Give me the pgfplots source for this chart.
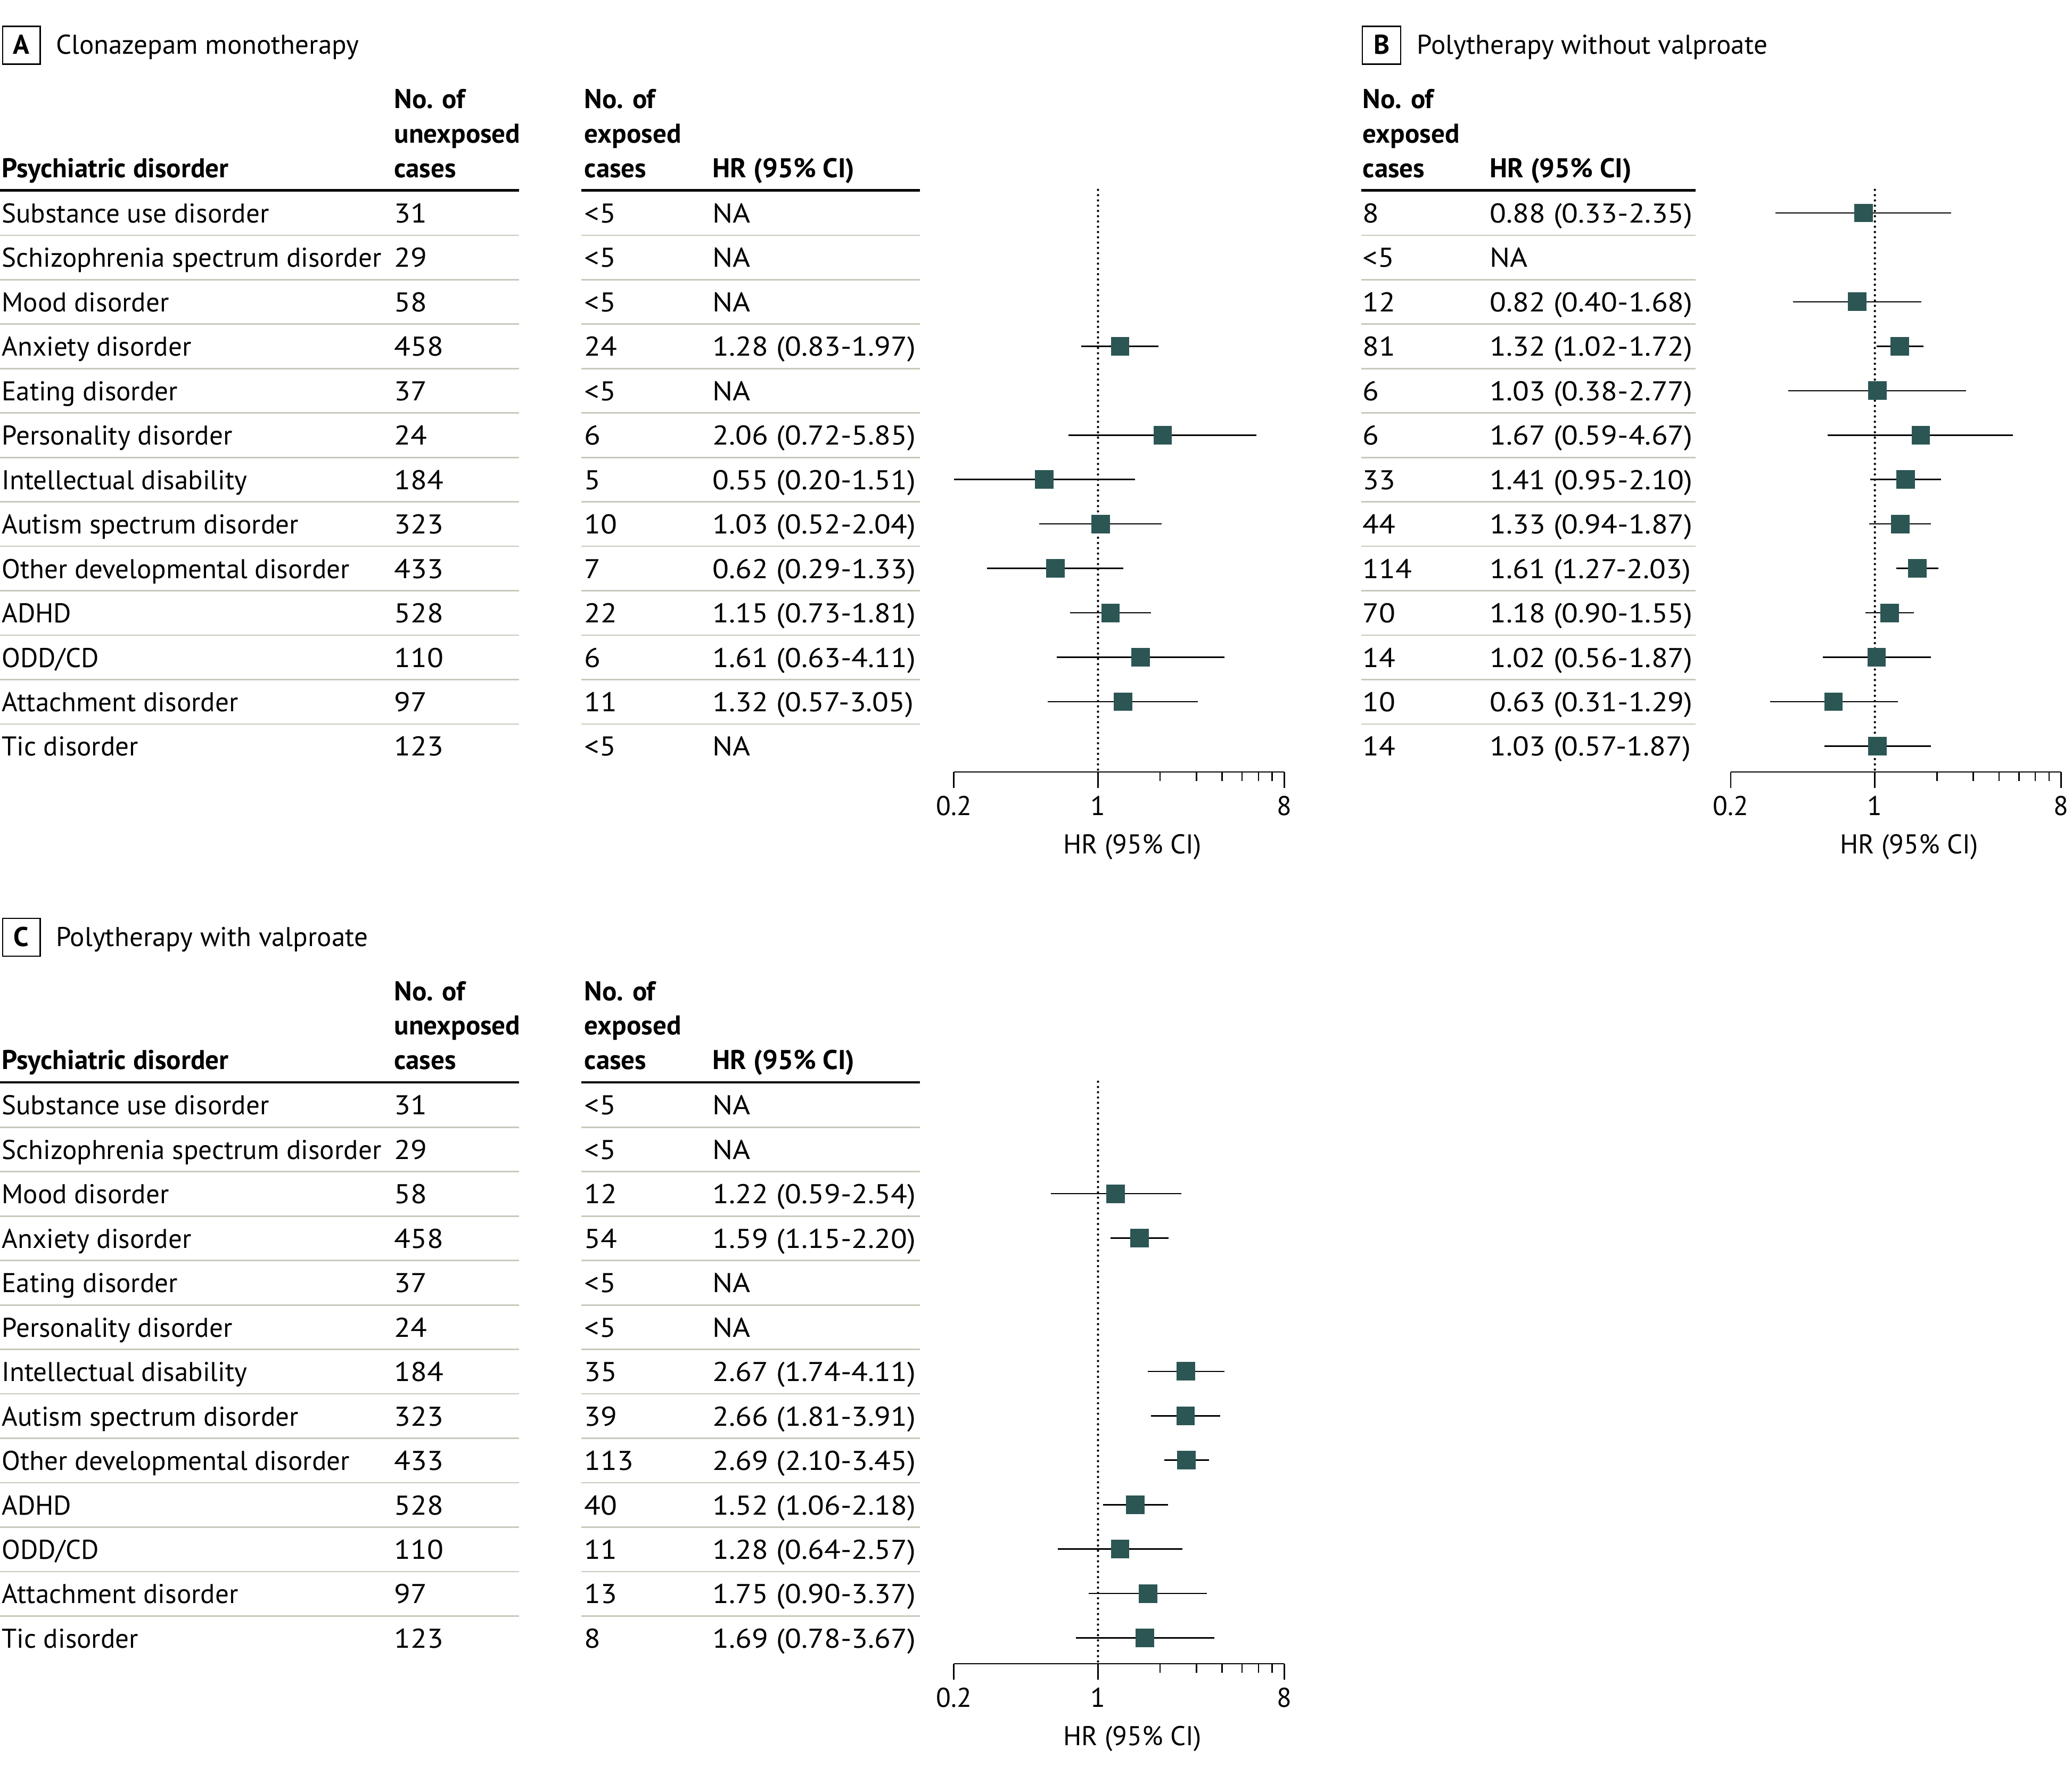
\documentclass[border=0pt]{standalone}
\usepackage{fontspec}
\setmainfont{PT Sans}
\newfontfamily\numfont{PT Sans}[FakeStretch=1.11]
\usepackage{pgfplots}
\pgfplotsset{compat=1.18}
\definecolor{markc}{RGB}{43,86,84}
\definecolor{sepc}{RGB}{200,200,188}
\newcommand\fs{\fontsize{11.7pt}{14pt}\selectfont}

\pgfplotsset{
  every axis/.append style={
    overlay,
    xmin=0.2, xmax=8, ymin=-13.58, ymax=-0.48,
    width=5cm, height=8.81cm, scale only axis, clip=false,
    anchor=south west,
    axis x line*=bottom, axis y line=none,
    xtick={0.2,1,8}, xticklabels={0.2,1,8}, minor xtick={2,3,4,5,6,7},
    tick align=outside, major tick length=0.24cm, minor tick length=0.14cm,
    axis line style={line width=0.6pt},
    every tick/.style={black, line width=0.6pt},
    xticklabel style={font=\fs},
    xlabel={HR (95\% CI)},
    xlabel style={at={(ticklabel cs:0.5)}, anchor=north, font=\fs, xshift=0.2cm, yshift=-0.04cm},
  },
  refline/.style={black, line width=1pt, dash pattern=on 0pt off 2.27pt, line cap=round},
  ci/.style={black, line width=0.6pt, mark=none, unbounded coords=jump},
  est/.style={only marks, mark=square*, mark size=3.8pt, mark options={fill=markc, draw=markc}},
}

\begin{document}
\begin{tikzpicture}
\begin{scope}[x=0.02cm, y=-0.02cm,
  txt/.style={anchor=base west, inner sep=0pt, font=\fs},
  num/.style={anchor=base west, inner sep=0pt, font=\fs\numfont},
  hd/.style={anchor=base west, inner sep=0pt, font=\fs\bfseries}]
\useasboundingbox (0,0) rectangle (1568,1343);

% ---- panel A ----
\draw[line width=0.6pt] (2,20) rectangle (30.5,48.6);
\node[anchor=base, inner sep=0pt, font=\fs\bfseries] at (16.2,41) {A};
\node[txt] at (42,41) {Clonazepam monotherapy};
\node[hd] at (1,134.3) {Psychiatric disorder};
\node[hd] at (298,82) {No. of};
\node[hd] at (298,108) {unexposed};
\node[hd] at (298,134.3) {cases};
\node[hd] at (442,82) {No. of};
\node[hd] at (442,108) {exposed};
\node[hd] at (442,134.3) {cases};
\node[hd] at (539,134.3) {HR (95\% CI)};
\draw[line width=1.1pt] (0,144) -- (393,144) (440,144) -- (696,144);
\foreach \r in {1,...,12}{
  \pgfmathsetmacro\ys{178+(\r-1)*33.63}
  \draw[sepc, line width=0.6pt] (0,\ys) -- (393,\ys) (440,\ys) -- (696,\ys);
}
\foreach \na/\nb/\nc/\nd [count=\r] in {
  Substance use disorder/31/<5/NA,
  Schizophrenia spectrum disorder/29/<5/NA,
  Mood disorder/58/<5/NA,
  Anxiety disorder/458/24/1.28 (0.83-1.97),
  Eating disorder/37/<5/NA,
  Personality disorder/24/6/2.06 (0.72-5.85),
  Intellectual disability/184/5/0.55 (0.20-1.51),
  Autism spectrum disorder/323/10/1.03 (0.52-2.04),
  Other developmental disorder/433/7/0.62 (0.29-1.33),
  ADHD/528/22/1.15 (0.73-1.81),
  {ODD/CD}/110/6/1.61 (0.63-4.11),
  Attachment disorder/97/11/1.32 (0.57-3.05),
  Tic disorder/123/<5/NA}{
  \pgfmathsetmacro\yb{168.5+(\r-1)*33.63}
  \node[txt] at (1,\yb) {\na};
  \node[num] at (298,\yb) {\nb};
  \node[num] at (442,\yb) {\nc};
  \node[num] at (539,\yb) {\nd};
}

% ---- panel B ----
\draw[line width=0.6pt] (1031,20) rectangle (1060,48.6);
\node[anchor=base, inner sep=0pt, font=\fs\bfseries] at (1045.5,41) {B};
\node[txt] at (1072,41) {Polytherapy without valproate};
\node[hd] at (1031,82) {No. of};
\node[hd] at (1031,108) {exposed};
\node[hd] at (1031,134.3) {cases};
\node[hd] at (1127,134.3) {HR (95\% CI)};
\draw[line width=1.1pt] (1030,144) -- (1283,144);
\foreach \r in {1,...,12}{
  \pgfmathsetmacro\ys{178+(\r-1)*33.63}
  \draw[sepc, line width=0.6pt] (1030,\ys) -- (1283,\ys);
}
\foreach \nc/\nd [count=\r] in {
  8/0.88 (0.33-2.35),
  <5/NA,
  12/0.82 (0.40-1.68),
  81/1.32 (1.02-1.72),
  6/1.03 (0.38-2.77),
  6/1.67 (0.59-4.67),
  33/1.41 (0.95-2.10),
  44/1.33 (0.94-1.87),
  114/1.61 (1.27-2.03),
  70/1.18 (0.90-1.55),
  14/1.02 (0.56-1.87),
  10/0.63 (0.31-1.29),
  14/1.03 (0.57-1.87)}{
  \pgfmathsetmacro\yb{168.5+(\r-1)*33.63}
  \node[num] at (1031,\yb) {\nc};
  \node[num] at (1127,\yb) {\nd};
}

% ---- panel C ----
\draw[line width=0.6pt] (2,695) rectangle (30.5,723.6);
\node[anchor=base, inner sep=0pt, font=\fs\bfseries] at (16.2,716) {C};
\node[txt] at (42,716) {Polytherapy with valproate};
\node[hd] at (1,809.3) {Psychiatric disorder};
\node[hd] at (298,757) {No. of};
\node[hd] at (298,783) {unexposed};
\node[hd] at (298,809.3) {cases};
\node[hd] at (442,757) {No. of};
\node[hd] at (442,783) {exposed};
\node[hd] at (442,809.3) {cases};
\node[hd] at (539,809.3) {HR (95\% CI)};
\draw[line width=1.1pt] (0,819) -- (393,819) (440,819) -- (696,819);
\foreach \r in {1,...,12}{
  \pgfmathsetmacro\ys{853+(\r-1)*33.63}
  \draw[sepc, line width=0.6pt] (0,\ys) -- (393,\ys) (440,\ys) -- (696,\ys);
}
\foreach \na/\nb/\nc/\nd [count=\r] in {
  Substance use disorder/31/<5/NA,
  Schizophrenia spectrum disorder/29/<5/NA,
  Mood disorder/58/12/1.22 (0.59-2.54),
  Anxiety disorder/458/54/1.59 (1.15-2.20),
  Eating disorder/37/<5/NA,
  Personality disorder/24/<5/NA,
  Intellectual disability/184/35/2.67 (1.74-4.11),
  Autism spectrum disorder/323/39/2.66 (1.81-3.91),
  Other developmental disorder/433/113/2.69 (2.10-3.45),
  ADHD/528/40/1.52 (1.06-2.18),
  {ODD/CD}/110/11/1.28 (0.64-2.57),
  Attachment disorder/97/13/1.75 (0.90-3.37),
  Tic disorder/123/8/1.69 (0.78-3.67)}{
  \pgfmathsetmacro\yb{843.5+(\r-1)*33.63}
  \node[txt] at (1,\yb) {\na};
  \node[num] at (298,\yb) {\nb};
  \node[num] at (442,\yb) {\nc};
  \node[num] at (539,\yb) {\nd};
}
\end{scope}

% ---- forest plots ----
\begin{semilogxaxis}[at={(14.44cm,-11.684cm)}]
\addplot[refline] coordinates {(1,-0.48) (1,-13.58)};
\addplot[ci] coordinates {
  (0.83,-4) (1.97,-4) (1,nan)
  (0.72,-6) (5.85,-6) (1,nan)
  (0.20,-7) (1.51,-7) (1,nan)
  (0.52,-8) (2.04,-8) (1,nan)
  (0.29,-9) (1.33,-9) (1,nan)
  (0.73,-10) (1.81,-10) (1,nan)
  (0.63,-11) (4.11,-11) (1,nan)
  (0.57,-12) (3.05,-12)};
\addplot[est] coordinates {
  (1.28,-4) (2.06,-6) (0.55,-7) (1.03,-8) (0.62,-9) (1.15,-10) (1.61,-11) (1.32,-12)};
\end{semilogxaxis}

\begin{semilogxaxis}[at={(26.2cm,-11.684cm)}]
\addplot[refline] coordinates {(1,-0.48) (1,-13.58)};
\addplot[ci] coordinates {
  (0.33,-1) (2.35,-1) (1,nan)
  (0.40,-3) (1.68,-3) (1,nan)
  (1.02,-4) (1.72,-4) (1,nan)
  (0.38,-5) (2.77,-5) (1,nan)
  (0.59,-6) (4.67,-6) (1,nan)
  (0.95,-7) (2.10,-7) (1,nan)
  (0.94,-8) (1.87,-8) (1,nan)
  (1.27,-9) (2.03,-9) (1,nan)
  (0.90,-10) (1.55,-10) (1,nan)
  (0.56,-11) (1.87,-11) (1,nan)
  (0.31,-12) (1.29,-12) (1,nan)
  (0.57,-13) (1.87,-13)};
\addplot[est] coordinates {
  (0.88,-1) (0.82,-3) (1.32,-4) (1.03,-5) (1.67,-6) (1.41,-7) (1.33,-8)
  (1.61,-9) (1.18,-10) (1.02,-11) (0.63,-12) (1.03,-13)};
\end{semilogxaxis}

\begin{semilogxaxis}[at={(14.44cm,-25.184cm)}]
\addplot[refline] coordinates {(1,-0.48) (1,-13.58)};
\addplot[ci] coordinates {
  (0.59,-3) (2.54,-3) (1,nan)
  (1.15,-4) (2.20,-4) (1,nan)
  (1.74,-7) (4.11,-7) (1,nan)
  (1.81,-8) (3.91,-8) (1,nan)
  (2.10,-9) (3.45,-9) (1,nan)
  (1.06,-10) (2.18,-10) (1,nan)
  (0.64,-11) (2.57,-11) (1,nan)
  (0.90,-12) (3.37,-12) (1,nan)
  (0.78,-13) (3.67,-13)};
\addplot[est] coordinates {
  (1.22,-3) (1.59,-4) (2.67,-7) (2.66,-8) (2.69,-9) (1.52,-10) (1.28,-11) (1.75,-12) (1.69,-13)};
\end{semilogxaxis}
\end{tikzpicture}
\end{document}
